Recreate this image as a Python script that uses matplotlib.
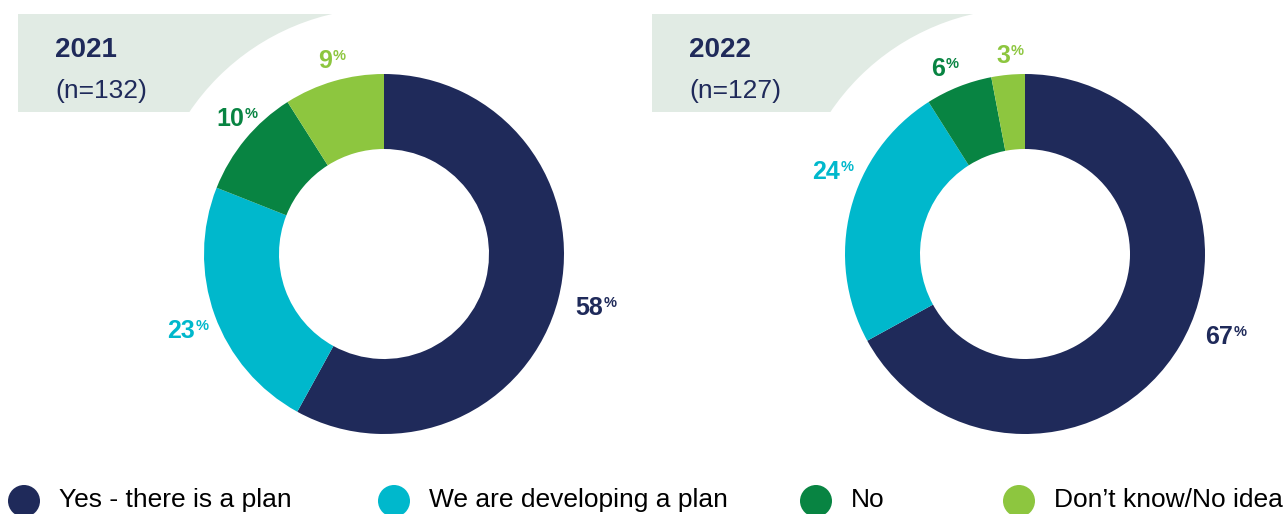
import matplotlib.pyplot as plt
from matplotlib.patches import Rectangle, Circle

plt.rcParams['font.family'] = ['Liberation Sans', 'DejaVu Sans']

categories = ['Yes - there is a plan', 'We are developing a plan', 'No', "Don\u2019t know/No idea"]
colors = ['#1f2a5a', '#00b8cc', '#088442', '#8dc63f']
years = ['2021', '2022']
sample_sizes = [132, 127]
shares_2021 = [58, 23, 10, 9]
shares_2022 = [67, 24, 6, 3]

W, H = 1287, 514
navy = '#1f2a5a'
box_color = '#e1ebe4'


def Y(py):
    # pixel rows run downwards, data y runs upwards
    return H - py


fig = plt.figure(figsize=(W / 100, H / 100), dpi=100)
ax = fig.add_axes([0, 0, 1, 1])

panels = [
    # donut centre, box left, label spots (right edge of number, baseline)
    dict(cx=384, cy=254, box_x=18, values=shares_2021,
         labels=[(603, 315), (195, 338), (244, 126), (332, 68)]),
    dict(cx=1025, cy=254, box_x=652, values=shares_2022,
         labels=[(1233, 344), (840, 179), (945, 76), (1010, 63)]),
]

for year, n, p in zip(years, sample_sizes, panels):
    cx, cy = p['cx'], p['cy']

    # header box, cut by a white disc behind the donut
    ax.add_patch(Rectangle((p['box_x'], Y(112)), cx - p['box_x'], 98,
                           facecolor=box_color, edgecolor='none', zorder=1))
    ax.add_patch(Circle((cx + 1, Y(cy - 10)), 236, facecolor='white',
                        edgecolor='none', zorder=2))
    ax.text(p['box_x'] + 37, Y(57), year, fontsize=20, fontweight='bold',
            color=navy, ha='left', va='baseline', zorder=5)
    ax.text(p['box_x'] + 37, Y(98), f'(n={n})', fontsize=19,
            color=navy, ha='left', va='baseline', zorder=5)

    wedges, _ = ax.pie(p['values'], colors=colors, startangle=90,
                       counterclock=False, center=(cx, Y(cy)), radius=180,
                       wedgeprops=dict(width=75, linewidth=0))
    for w in wedges:
        w.set_zorder(3)

    for v, c, (lx, ly) in zip(p['values'], colors, p['labels']):
        ax.text(lx, Y(ly), str(v), fontsize=18, fontweight='bold', color=c,
                ha='right', va='baseline', zorder=5)
        ax.text(lx + 1, Y(ly - 8), '%', fontsize=10.5, fontweight='bold',
                color=c, ha='left', va='baseline', zorder=5)

# legend along the bottom
legend_x = [24, 394, 816, 1019]
for x, c, name in zip(legend_x, colors, categories):
    ax.add_patch(Circle((x, Y(501)), 16, facecolor=c, edgecolor='none', zorder=5))
    ax.text(x + 35, Y(500), name, fontsize=19, color='black',
            ha='left', va='center', zorder=5)

ax.set_xlim(0, W)
ax.set_ylim(0, H)
ax.set_aspect('equal')
ax.axis('off')

fig.savefig('out.png', dpi=100, facecolor='white')
